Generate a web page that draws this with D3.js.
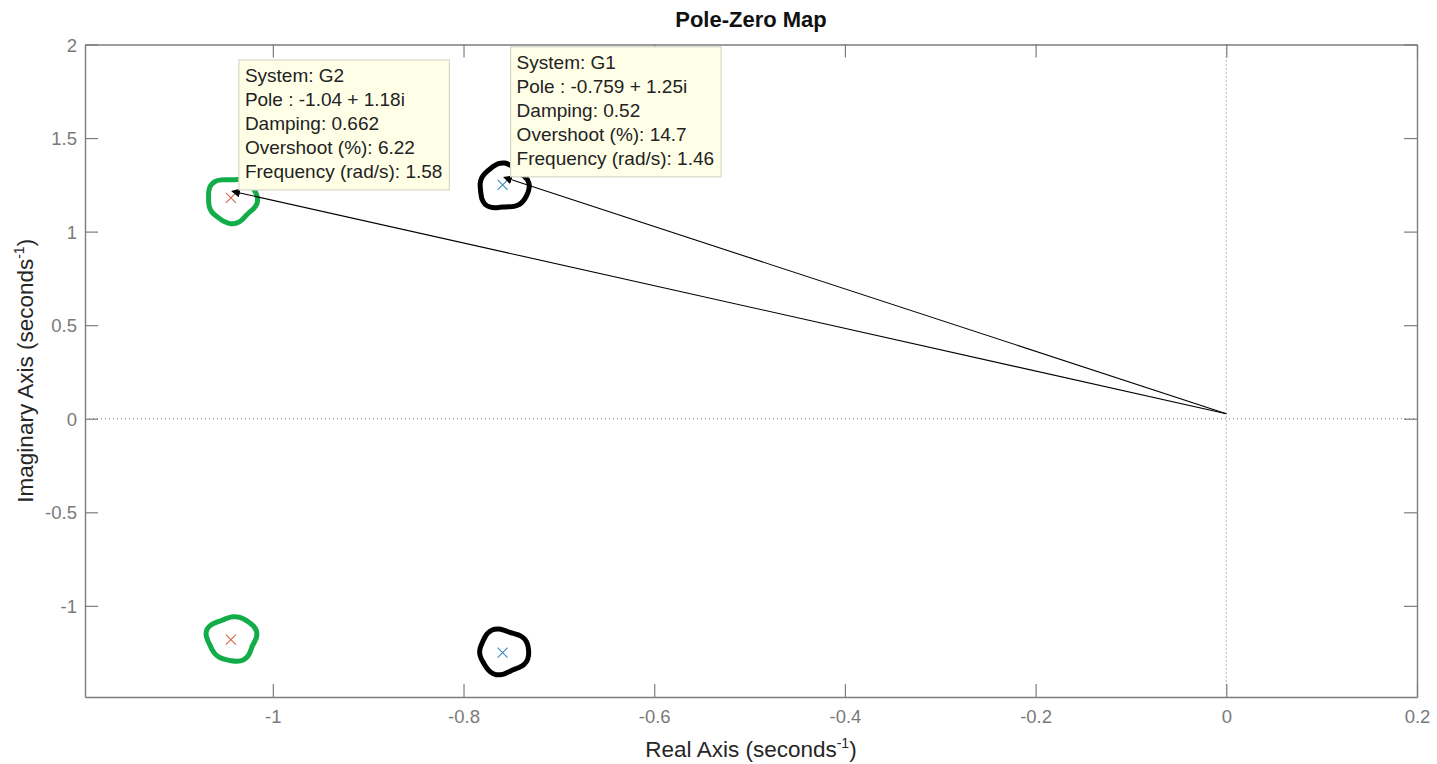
<!DOCTYPE html>
<html>
<head>
<meta charset="utf-8">
<title>Pole-Zero Map</title>
<script src="https://cdn.jsdelivr.net/npm/d3@7"></script>
<style>
  html, body { margin: 0; padding: 0; background: #fff; }
  svg { display: block; font-family: "Liberation Sans", Arial, Helvetica, sans-serif; }
</style>
</head>
<body>
<div id="chart"></div>
<script>
/* pole data */
var systems   = ['G1', 'G2'];
var poleRe    = [-0.759, -1.044];
var poleIm    = [1.25, 1.18];
var damping   = [0.52, 0.662];
var overshoot = [14.7, 6.22];
var frequency = [1.46, 1.58];

var xTicks = [-1, -0.8, -0.6, -0.4, -0.2, 0, 0.2];
var yTicks = [-1, -0.5, 0, 0.5, 1, 1.5, 2];
var xLim = [-1.197, 0.2];
var yLim = [-1.487, 2];

// where the datatip leader lines all end up (matlab quirk)
var tipTarget = [0, 0.027];

var seriesColors = ['#3d8cc4', '#cf6a48'];
var ringColors = ['#000000', '#12ad48'];

(function draw() {
  'use strict';

  var W = 1437, H = 764;
  var margin = { left: 85, top: 44.5, right: 20, bottom: 67 };
  var iw = W - margin.left - margin.right;
  var ih = H - margin.top - margin.bottom;
  var TICK = 13;

  var loc = d3.formatLocale({ decimal: '.', thousands: ',', grouping: [3], currency: ['', ''], minus: '-' });
  var fmt = loc.format('.3~g');
  var tickFmt = loc.format('~g');

  var x = d3.scaleLinear().domain(xLim).range([0, iw]);
  var y = d3.scaleLinear().domain(yLim).range([ih, 0]);

  var svg = d3.select('#chart').append('svg')
      .attr('width', W)
      .attr('height', H);

  svg.append('text')
      .attr('x', margin.left + iw / 2)
      .attr('y', 27)
      .attr('text-anchor', 'middle')
      .style('font-weight', 'bold')
      .style('font-size', '22px')
      .style('fill', '#111')
      .text('Pole-Zero Map');

  var g = svg.append('g')
      .attr('transform', 'translate(' + margin.left + ',' + margin.top + ')');

  // zero lines
  g.append('line')
      .attr('x1', 0).attr('x2', iw)
      .attr('y1', y(0)).attr('y2', y(0))
      .style('stroke', '#777')
      .style('stroke-dasharray', '1,3');
  g.append('line')
      .attr('x1', x(0)).attr('x2', x(0))
      .attr('y1', 0).attr('y2', ih)
      .style('stroke', '#777')
      .style('stroke-dasharray', '1,3');

  // axes: box with inward ticks on all four sides
  var axisColor = '#7d7d7d';
  var axBottom = d3.axisBottom(x).tickValues(xTicks).tickFormat(tickFmt)
      .tickSizeInner(-TICK).tickSizeOuter(0).tickPadding(13);
  var axTop = d3.axisTop(x).tickValues(xTicks).tickFormat('')
      .tickSizeInner(-TICK).tickSizeOuter(0);
  var axLeft = d3.axisLeft(y).tickValues(yTicks).tickFormat(tickFmt)
      .tickSizeInner(-TICK).tickSizeOuter(0).tickPadding(8);
  var axRight = d3.axisRight(y).tickValues(yTicks).tickFormat('')
      .tickSizeInner(-TICK).tickSizeOuter(0);

  var gx = g.append('g').attr('transform', 'translate(0,' + ih + ')').call(axBottom);
  var gxt = g.append('g').call(axTop);
  var gy = g.append('g').call(axLeft);
  var gyr = g.append('g').attr('transform', 'translate(' + iw + ',0)').call(axRight);

  [gx, gxt, gy, gyr].forEach(function(a) {
    a.select('.domain').style('stroke', axisColor).style('stroke-width', 1.4);
    a.selectAll('.tick line').style('stroke', axisColor).style('stroke-width', 1.2);
    a.selectAll('.tick text')
        .style('fill', '#7a7a7a')
        .style('font-size', '18.5px')
        .style('font-family', '"Liberation Sans", Arial, sans-serif');
  });
  gy.selectAll('.tick text').attr('dy', '0.36em');

  // axis labels with superscript -1
  var xl = svg.append('text')
      .attr('x', margin.left + iw / 2)
      .attr('y', 757)
      .attr('text-anchor', 'middle')
      .style('font-size', '22.5px')
      .style('fill', '#262626');
  xl.append('tspan').text('Real Axis (seconds');
  xl.append('tspan').attr('dy', -9).style('font-size', '14px').text('-1');
  xl.append('tspan').attr('dy', 9).text(')');

  var yl = svg.append('text')
      .attr('transform', 'translate(33,' + (margin.top + ih / 2) + ') rotate(-90)')
      .attr('text-anchor', 'middle')
      .style('font-size', '22.5px')
      .style('fill', '#262626');
  yl.append('tspan').text('Imaginary Axis (seconds');
  yl.append('tspan').attr('dy', -9).style('font-size', '14px').text('-1');
  yl.append('tspan').attr('dy', 9).text(')');

  var poles = systems.map(function(s, i) {
    return { name: s, re: poleRe[i], im: poleIm[i], color: seriesColors[i], ring: ringColors[i], i: i };
  });

  // pole markers (conjugate pairs)
  var pts = [];
  poles.forEach(function(p) {
    pts.push({ re: p.re, im: p.im, color: p.color, ring: p.ring, i: p.i });
    pts.push({ re: p.re, im: -p.im, color: p.color, ring: p.ring, i: p.i });
  });

  var r = 5;
  g.selectAll('path.pole')
      .data(pts)
      .enter().append('path')
      .attr('class', 'pole')
      .attr('d', function(d) {
        var cx = x(d.re), cy = y(d.im);
        return 'M' + (cx - r) + ' ' + (cy - r) + ' L ' + (cx + r) + ' ' + (cy + r) +
               ' M' + (cx - r) + ' ' + (cy + r) + ' L ' + (cx + r) + ' ' + (cy - r);
      })
      .style('stroke', function(d) { return d.color; })
      .style('stroke-width', 1.1)
      .style('fill', 'none');

  // hand-drawn rings around the poles
  var ringLine = d3.line().curve(d3.curveCatmullRom);
  function ringPath(cx, cy, k) {
    var p = [], n = 26, a, j, rr;
    for (j = 0; j <= n + 3; j++) {
      a = -Math.PI / 3 + (j / n) * Math.PI * 2;
      rr = 1 + 0.06 * Math.sin(3 * a + k) + 0.04 * Math.cos(5 * a + 2 * k);
      p.push([cx + Math.cos(a) * 24.5 * rr, cy + Math.sin(a) * 22 * rr]);
    }
    return ringLine(p);
  }
  g.selectAll('path.ring')
      .data(pts)
      .enter().append('path')
      .attr('class', 'ring')
      .attr('d', function(d, j) { return ringPath(x(d.re) + 1, y(d.im) + (d.im > 0 ? 2 : -1), j + 0.7); })
      .style('fill', 'none')
      .style('stroke', function(d) { return d.ring; })
      .style('stroke-width', 5)
      .style('stroke-linecap', 'round')
      .style('stroke-linejoin', 'round');

  // datatips
  svg.append('defs').append('marker')
      .attr('id', 'tip-arrow')
      .attr('viewBox', '0 0 10 10')
      .attr('refX', 0).attr('refY', 5)
      .attr('markerWidth', 9).attr('markerHeight', 9)
      .attr('markerUnits', 'userSpaceOnUse')
      .attr('orient', 'auto-start-reverse')
      .append('path')
      .attr('d', 'M0 0 L10 5 L0 10 z')
      .style('fill', '#000');

  poles.forEach(function(p, i) {
    var px = x(p.re), py = y(p.im);

    g.append('line')
        .attr('x1', px + 9).attr('y1', py - 5)
        .attr('x2', x(tipTarget[0])).attr('y2', y(tipTarget[1]))
        .attr('marker-start', 'url(#tip-arrow)')
        .style('stroke', '#000')
        .style('stroke-width', 1.1);

    var lines = [
      'System: ' + p.name,
      'Pole : ' + fmt(p.re) + ' + ' + fmt(p.im) + 'i',
      'Damping: ' + fmt(damping[i]),
      'Overshoot (%): ' + fmt(overshoot[i]),
      'Frequency (rad/s): ' + fmt(frequency[i])
    ];

    var tip = g.append('g')
        .attr('transform', 'translate(' + (px + 8) + ',' + (py - 8 - 130) + ')');
    var box = tip.append('rect')
        .attr('height', 130)
        .style('fill', '#ffffe8')
        .style('stroke', '#d8d8c8')
        .style('stroke-width', 1.2);
    var txt = tip.append('text')
        .style('font-size', '19px')
        .style('fill', '#222');
    txt.selectAll('tspan')
        .data(lines)
        .enter().append('tspan')
        .attr('x', 6)
        .attr('y', function(d, j) { return 22 + j * 24; })
        .text(function(d) { return d; });
    var w = txt.node().getBBox().width;
    box.attr('width', w + 13);
  });
})();
</script>
</body>
</html>
